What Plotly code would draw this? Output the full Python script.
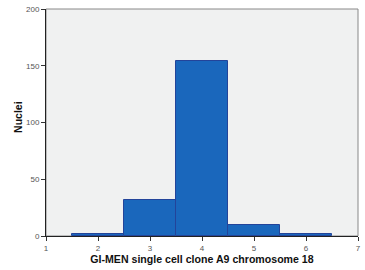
import plotly.graph_objects as go

categories = [2, 3, 4, 5, 6]
counts = [2, 32, 154, 10, 2]
x_ticks = [1, 2, 3, 4, 5, 6, 7]
y_ticks = [0, 50, 100, 150, 200]

fig = go.Figure()
fig.add_trace(go.Bar(
    x=categories, y=counts, width=1,
    marker=dict(color="#1A67BC", line=dict(color="#23449A", width=1)),
))

fig.update_layout(
    width=365, height=270,
    margin=dict(l=46, r=4, t=9, b=34),
    paper_bgcolor="white",
    plot_bgcolor="#F0F1F1",
    showlegend=False,
    font=dict(family="Arial, Liberation Sans, sans-serif", size=8, color="#555555"),
    bargap=0,
)
fig.update_xaxes(
    range=[1, 7], tickvals=x_ticks, ticks="outside", ticklen=4, tickcolor="#333333",
    showgrid=False, zeroline=False, ticklabeloverflow="allow",
    showline=True, linecolor="#222222", linewidth=1,
    title=dict(text="<b>GI-MEN single cell clone A9 chromosome 18</b>",
               font=dict(size=10.6, color="#111111"), standoff=3),
)
fig.update_yaxes(
    range=[0, 200], tickvals=y_ticks, ticks="outside", ticklen=4, tickcolor="#333333",
    showgrid=False, zeroline=False, ticklabeloverflow="allow",
    showline=True, linecolor="#222222", linewidth=1,
)
fig.add_annotation(text="<b>Nuclei</b>", textangle=-90, showarrow=False,
                   xref="paper", yref="paper", x=-0.092, y=0.526,
                   xanchor="center", yanchor="middle",
                   font=dict(size=10.5, color="#111111"))
fig.add_shape(type="rect", xref="paper", yref="paper", x0=0, y0=0, x1=1, y1=1,
              line=dict(color="#888888", width=1), layer="below")

fig.write_html("out.html", config={"displayModeBar": False},
               post_script="document.body.style.margin='0';")
